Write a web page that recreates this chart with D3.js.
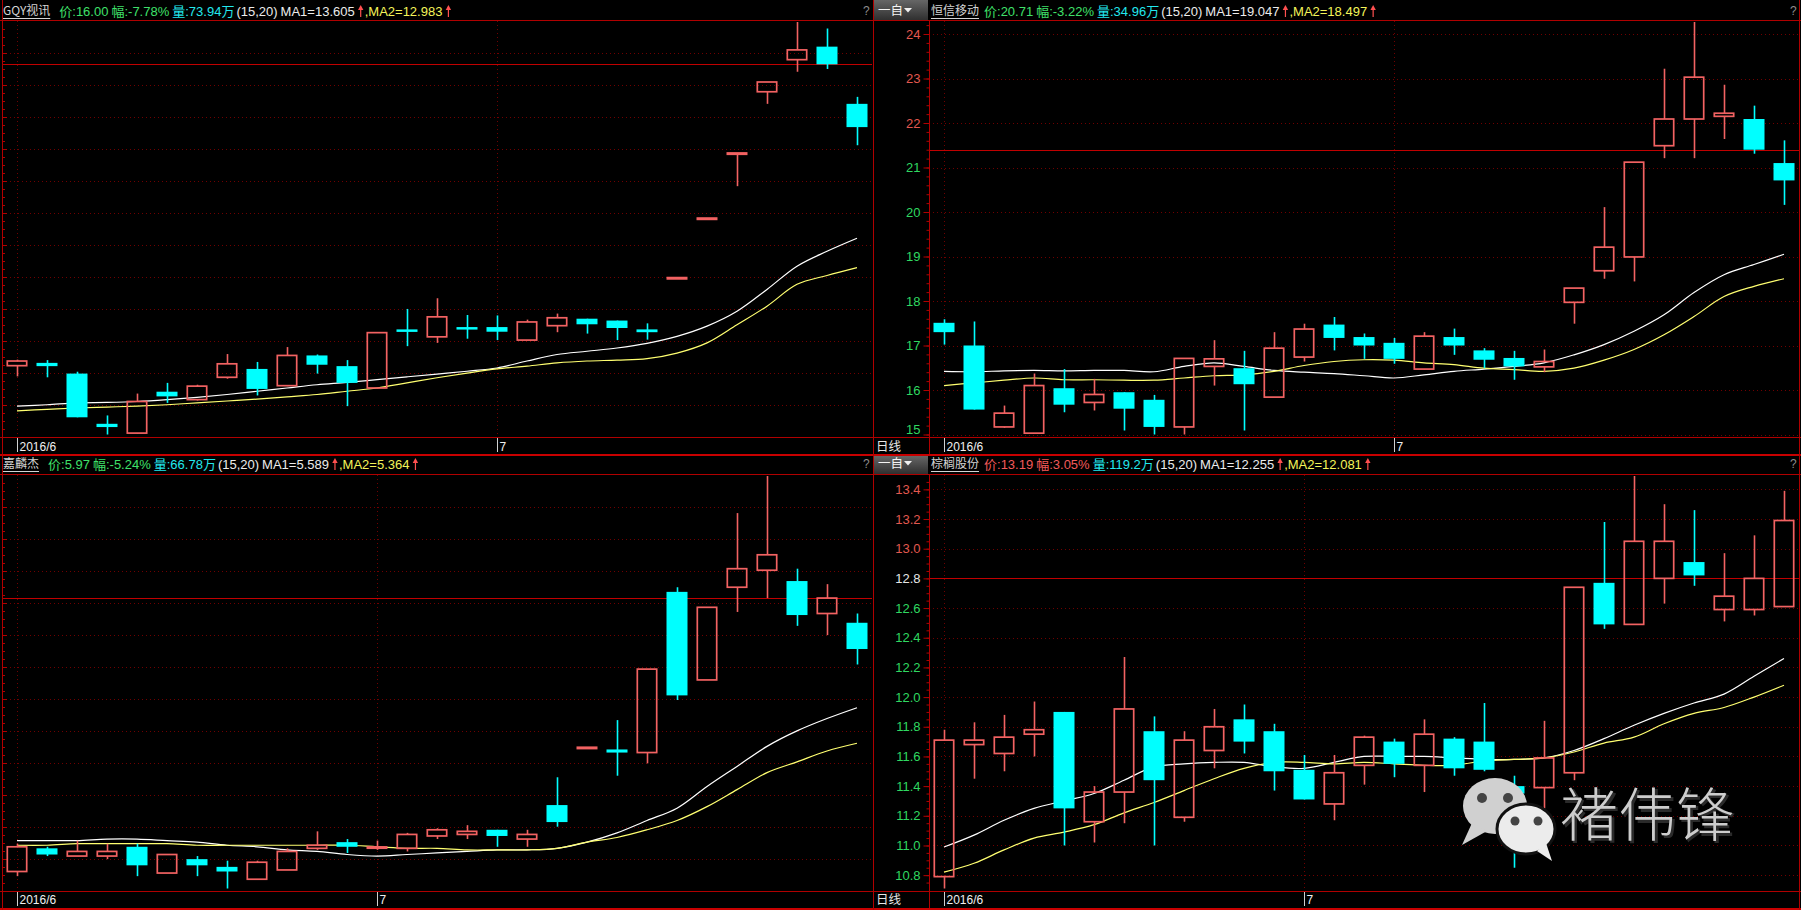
<!DOCTYPE html>
<html><head><meta charset="utf-8"><title>K线</title>
<script src="https://cdn.jsdelivr.net/npm/d3@7/dist/d3.min.js"></script>
<style>html,body{margin:0;padding:0;background:#000;overflow:hidden}svg{display:block}</style>
</head><body><svg id="chart" width="1801" height="910"></svg>
<script>
// ================= DATA =================
const dayIndex = d3.range(29);
const monthLabels = ["2016/6", "7"];

// GQY视讯 (top-left)
const gqyOpen  = [10.87,10.93,10.70,9.62,9.42,10.31,10.14,10.62,10.80,10.44,11.09,10.86,10.39,11.65,11.49,11.70,11.70,11.42,11.73,11.88,11.84,11.65,12.75,14.03,15.43,16.76,17.45,17.73,16.50];
const gqyHigh  = [11.00,10.99,10.74,9.80,10.27,10.50,10.46,11.12,10.95,11.27,11.11,10.99,11.58,12.09,12.32,11.96,11.95,11.86,11.99,11.88,11.84,11.78,12.75,14.03,15.43,16.97,18.26,18.12,16.65];
const gqyLow   = [10.64,10.62,9.76,9.39,9.41,10.07,10.12,10.59,10.23,10.43,10.70,10.00,10.38,11.29,11.36,11.45,11.42,11.42,11.59,11.56,11.42,11.43,12.75,14.03,14.73,16.50,17.19,17.25,15.61];
const gqyClose = [10.97,10.86,9.76,9.55,10.10,10.21,10.43,10.91,10.37,11.09,10.89,10.50,11.58,11.62,11.92,11.67,11.60,11.81,11.90,11.76,11.68,11.59,12.75,14.03,15.43,16.97,17.66,17.35,16.00];
const gqyMA1   = [10.00,10.03,10.07,10.08,10.10,10.14,10.19,10.25,10.32,10.39,10.46,10.51,10.57,10.63,10.69,10.75,10.82,10.97,11.11,11.18,11.25,11.35,11.50,11.72,12.04,12.51,13.01,13.33,13.61];
const gqyMA2   = [9.90,9.93,9.96,9.98,10.00,10.03,10.07,10.11,10.15,10.20,10.25,10.32,10.39,10.50,10.61,10.71,10.80,10.86,10.93,10.97,10.99,11.02,11.14,11.36,11.75,12.15,12.62,12.81,12.98];
const gqyMonthIdx = [0, 16];

// 恒信移动 (top-right)
const hxydOpen  = [17.51,17.00,15.17,15.03,16.04,15.72,15.95,15.78,15.17,16.53,16.49,15.84,16.74,17.47,17.19,17.06,16.47,17.19,16.89,16.72,16.52,17.97,18.68,18.99,21.49,22.09,22.15,22.09,21.10];
const hxydHigh  = [17.59,17.54,15.65,16.37,16.47,16.25,15.95,15.89,16.71,17.12,16.88,17.30,17.49,17.64,17.27,17.17,17.30,17.38,16.94,16.88,16.91,18.29,20.11,21.12,23.22,24.27,22.86,22.39,21.61];
const hxydLow   = [17.02,15.56,15.15,15.02,15.50,15.54,15.09,15.00,15.00,16.10,15.09,15.84,16.64,16.89,16.70,16.59,16.46,16.79,16.49,16.23,16.40,17.49,18.50,18.44,21.21,21.21,21.64,21.31,20.16];
const hxydClose = [17.30,15.56,15.48,16.10,15.67,15.90,15.58,15.17,16.71,16.70,16.13,16.94,17.37,17.17,17.00,16.70,17.21,17.00,16.68,16.53,16.64,18.29,19.21,21.12,22.09,23.03,22.22,21.40,20.71];
const hxydMA1   = [16.42,16.41,16.43,16.44,16.43,16.44,16.44,16.41,16.53,16.61,16.53,16.44,16.40,16.37,16.32,16.27,16.34,16.42,16.47,16.53,16.61,16.79,17.02,17.32,17.69,18.19,18.59,18.82,19.05];
const hxydMA2   = [16.10,16.16,16.22,16.27,16.23,16.23,16.22,16.22,16.27,16.32,16.34,16.42,16.55,16.64,16.68,16.67,16.61,16.57,16.49,16.46,16.42,16.49,16.67,16.91,17.24,17.65,18.10,18.33,18.50];
const hxydMonthIdx = [0, 15];
const hxydTicks = [15,16,17,18,19,20,21,22,23,24];

// 嘉麟杰 (bottom-left)
const jljOpen  = [4.53,4.68,4.63,4.63,4.69,4.52,4.61,4.56,4.48,4.54,4.68,4.72,4.68,4.68,4.76,4.77,4.80,4.74,4.96,5.33,5.32,5.30,6.34,5.77,6.37,6.48,6.41,6.20,6.14];
const jljHigh  = [4.71,4.69,4.73,4.71,4.71,4.64,4.63,4.60,4.60,4.68,4.79,4.74,4.73,4.78,4.81,4.83,4.80,4.80,5.14,5.33,5.51,5.84,6.37,6.24,6.85,7.09,6.49,6.39,6.20];
const jljLow   = [4.50,4.63,4.63,4.61,4.50,4.52,4.50,4.42,4.48,4.54,4.67,4.65,4.67,4.66,4.74,4.74,4.69,4.69,4.82,5.33,5.15,5.23,5.64,5.77,6.21,6.30,6.12,6.06,5.87];
const jljClose = [4.69,4.64,4.66,4.66,4.57,4.64,4.57,4.53,4.59,4.66,4.70,4.69,4.69,4.77,4.80,4.79,4.76,4.77,4.85,5.33,5.30,5.84,5.67,6.24,6.49,6.58,6.19,6.30,5.97];
const jljMA1   = [4.73,4.73,4.73,4.74,4.74,4.73,4.72,4.70,4.69,4.67,4.66,4.64,4.63,4.64,4.65,4.66,4.67,4.67,4.68,4.72,4.78,4.86,4.94,5.08,5.21,5.34,5.44,5.52,5.59];
const jljMA2   = [4.70,4.70,4.71,4.71,4.71,4.71,4.70,4.70,4.70,4.70,4.70,4.70,4.69,4.68,4.68,4.67,4.67,4.67,4.68,4.72,4.75,4.80,4.86,4.95,5.06,5.17,5.24,5.31,5.36];
const jljMonthIdx = [0, 12];

// 棕榈股份 (bottom-right)
const zlgfOpen  = [10.79,11.68,11.62,11.75,11.90,11.16,11.36,11.77,11.19,11.64,11.85,11.77,11.51,11.28,11.54,11.70,11.54,11.72,11.70,11.40,11.39,11.49,12.77,12.49,12.80,12.91,12.59,12.59,12.61];
const zlgfHigh  = [11.78,11.83,11.88,11.97,11.90,11.40,12.27,11.87,11.77,11.92,11.95,11.82,11.61,11.61,11.74,11.72,11.85,11.73,11.96,11.47,11.84,12.74,13.18,13.49,13.30,13.26,12.97,13.09,13.39];
const zlgfLow   = [10.71,11.45,11.50,11.60,11.00,11.02,11.15,11.00,11.16,11.52,11.62,11.37,11.31,11.17,11.41,11.46,11.36,11.47,11.50,10.85,11.25,11.44,12.46,12.49,12.63,12.75,12.51,12.55,12.61];
const zlgfClose = [11.71,11.71,11.73,11.78,11.25,11.36,11.92,11.44,11.71,11.80,11.70,11.50,11.31,11.49,11.73,11.55,11.75,11.52,11.51,11.35,11.59,12.74,12.49,13.05,13.05,12.82,12.68,12.80,13.19];
const zlgfMA1   = [10.99,11.07,11.17,11.25,11.30,11.35,11.44,11.53,11.55,11.56,11.56,11.53,11.52,11.56,11.60,11.60,11.60,11.59,11.58,11.58,11.59,11.64,11.72,11.81,11.89,11.96,12.02,12.14,12.26];
const zlgfMA2   = [10.82,10.88,10.97,11.05,11.09,11.14,11.22,11.29,11.37,11.45,11.52,11.56,11.56,11.55,11.56,11.55,11.54,11.54,11.57,11.58,11.59,11.63,11.69,11.73,11.82,11.89,11.93,12.00,12.08];
const zlgfMonthIdx = [0, 12];
const zlgfTicks = [10.8,11.0,11.2,11.4,11.6,11.8,12.0,12.2,12.4,12.6,12.8,13.0,13.2,13.4];

// header info
const stockNames  = ["GQY视讯", "恒信移动", "嘉麟杰", "棕榈股份"];
const lastPrices  = ["16.00", "20.71", "5.97", "13.19"];
const changePcts  = ["-7.78", "-3.22", "-5.24", "3.05"];
const volumes     = ["73.94万", "34.96万", "66.78万", "119.2万"];
const ma1Values   = ["13.605", "19.047", "5.589", "12.255"];
const ma2Values   = ["12.983", "18.497", "5.364", "12.081"];
const prevCloses  = [17.35, 21.40, 6.30, 12.80];
const maParams    = "(15,20)";

// ================= LAYOUT / STYLE =================
const C_UP = "#f26262", C_DN = "#00ffff", C_MA1 = "#ffffff", C_MA2 = "#ffff70";
const C_FRAME = "#b00000", C_GRID = "#700000";
const C_GREEN = "#3fe06a", C_REDTXT = "#f25a5a", C_CYANTXT = "#22e8ee", C_YEL = "#f4f45a";
const LATIN = '"Liberation Sans", Arial, "Noto Sans CJK SC", sans-serif';
const CJK = '"Noto Sans CJK SC", "Noto Sans", sans-serif';

const rows = [
  {hTop: 0,   hBot: 20.5,  hBase: 16,  top: 21,  bottom: 437, lblBase: 450.5, end: 455},
  {hTop: 456, hBot: 474.5, hBase: 469, top: 475, bottom: 891, lblBase: 904,   end: 909}
];
const cols = [
  {x0: 2,   axis: false, hdrX: 3,   qX: 863},
  {x0: 929, axis: true,  hdrX: 931, qX: 1790}
];

const panels = [
  {row:0,col:0,k:0,open:gqyOpen,high:gqyHigh,low:gqyLow,close:gqyClose,ma1:gqyMA1,ma2:gqyMA2,months:gqyMonthIdx},
  {row:0,col:1,k:1,open:hxydOpen,high:hxydHigh,low:hxydLow,close:hxydClose,ma1:hxydMA1,ma2:hxydMA2,months:hxydMonthIdx,ticks:hxydTicks,minor:0.2,fmt:d3.format("d")},
  {row:1,col:0,k:2,open:jljOpen,high:jljHigh,low:jljLow,close:jljClose,ma1:jljMA1,ma2:jljMA2,months:jljMonthIdx},
  {row:1,col:1,k:3,open:zlgfOpen,high:zlgfHigh,low:zlgfLow,close:zlgfClose,ma1:zlgfMA1,ma2:zlgfMA2,months:zlgfMonthIdx,ticks:zlgfTicks,minor:0.05,fmt:d3.format(".1f")}
];

const svg = d3.select("#chart");
svg.append("rect").attr("width",1801).attr("height",910).attr("fill","#000");
const defs = svg.append("defs");
const grad = defs.append("linearGradient").attr("id","btn").attr("x1",0).attr("y1",0).attr("x2",0).attr("y2",1);
grad.append("stop").attr("offset","0%").attr("stop-color","#666");
grad.append("stop").attr("offset","100%").attr("stop-color","#2e2e2e");

const gLayer = svg.append("g"), mLayer = svg.append("g"), fLayer = svg.append("g");

function upArrow(g, x, base, color) {
  g.append("line").attr("x1", x + 3).attr("x2", x + 3).attr("y1", base + 1).attr("y2", base - 9)
    .attr("stroke", color).attr("stroke-width", 1.2);
  g.append("path").attr("d", `M${x + 0.3},${base - 6} L${x + 3},${base - 11} L${x + 5.7},${base - 6} Z`).attr("fill", color);
  return 7;
}

panels.forEach(p => {
  const r = rows[p.row], c = cols[p.col];
  const n = p.close.length;
  const x = d3.scaleBand().domain(dayIndex.slice(0, n)).range([c.x0, c.x0 + 30 * n]).paddingInner(0.3).paddingOuter(0.15);
  const bw = x.bandwidth();
  const cx = i => x(i) + bw / 2;
  const y = d3.scaleLinear().domain([d3.min(p.low), d3.max(p.high)]).range([r.bottom - 2.5, r.top + 1]);
  const plotL = c.x0, plotR = c.x0 + 30 * n;

  // grid
  const g = gLayer.append("g");
  if (p.ticks) {
    g.selectAll("line.hg").data(p.ticks).join("line")
      .attr("x1", plotL).attr("x2", plotR).attr("y1", d => Math.round(y(d)) + 0.5).attr("y2", d => Math.round(y(d)) + 0.5)
      .attr("stroke", C_GRID).attr("stroke-dasharray", "1,3");
  } else {
    const divs = d3.range(1, 13).map(k => r.top + k * (r.bottom - r.top) / 13);
    g.selectAll("line.hg").data(divs).join("line")
      .attr("x1", plotL).attr("x2", plotR).attr("y1", d => Math.round(d) + 0.5).attr("y2", d => Math.round(d) + 0.5)
      .attr("stroke", C_GRID).attr("stroke-dasharray", "1,3");
    const lt = d3.range(r.top + 8, r.bottom, 8);
    g.selectAll("line.lt").data(lt).join("line")
      .attr("x1", 2).attr("x2", (d, i) => (i % 4 === 3 ? 7 : 5)).attr("y1", d => Math.round(d) + 0.5).attr("y2", d => Math.round(d) + 0.5)
      .attr("stroke", C_FRAME);
  }
  g.selectAll("line.mv").data(p.months).join("line")
    .attr("x1", d => Math.round(cx(d)) + 0.5).attr("x2", d => Math.round(cx(d)) + 0.5)
    .attr("y1", r.top).attr("y2", r.bottom).attr("stroke", C_GRID).attr("stroke-dasharray", "1,3");
  g.append("line").attr("x1", plotL).attr("x2", plotR)
    .attr("y1", Math.round(y(prevCloses[p.k])) + 0.5).attr("y2", Math.round(y(prevCloses[p.k])) + 0.5)
    .attr("stroke", "#c00000").attr("stroke-width", 1);

  // MA lines
  const line = d3.line().x((d, i) => cx(i)).y(d => y(d)).curve(d3.curveCatmullRom.alpha(0.5));
  mLayer.append("path").datum(p.ma1).attr("d", line).attr("fill", "none").attr("stroke", C_MA1).attr("stroke-width", 1.2);
  mLayer.append("path").datum(p.ma2).attr("d", line).attr("fill", "none").attr("stroke", C_MA2).attr("stroke-width", 1.2);

  // candles
  const cg = mLayer.append("g");
  d3.range(n).forEach(i => {
    const o = p.open[i], cl = p.close[i], h = p.high[i], l = p.low[i];
    const up = cl >= o;
    const xm = Math.round(cx(i)) + 0.5;
    const yt = y(Math.max(o, cl)), yb = y(Math.min(o, cl));
    if (up) {
      cg.append("line").attr("x1", xm).attr("x2", xm).attr("y1", y(h)).attr("y2", yt).attr("stroke", C_UP).attr("stroke-width", 1.6);
      cg.append("line").attr("x1", xm).attr("x2", xm).attr("y1", yb).attr("y2", y(l)).attr("stroke", C_UP).attr("stroke-width", 1.6);
      const hh = yb - yt;
      if (hh < 2.5) {
        cg.append("rect").attr("x", x(i)).attr("y", (yt + yb) / 2 - 1.5).attr("width", bw).attr("height", 3).attr("fill", C_UP);
      } else {
        cg.append("rect").attr("x", x(i) + 0.8).attr("y", yt).attr("width", bw - 1.6).attr("height", hh)
          .attr("fill", "none").attr("stroke", C_UP).attr("stroke-width", 1.7);
      }
    } else {
      cg.append("line").attr("x1", xm).attr("x2", xm).attr("y1", y(h)).attr("y2", y(l)).attr("stroke", C_DN).attr("stroke-width", 1.6);
      cg.append("rect").attr("x", x(i)).attr("y", yt).attr("width", bw).attr("height", Math.max(2.5, yb - yt)).attr("fill", C_DN);
    }
  });

  // y axis on right-column panels
  if (c.axis) {
    const ref = prevCloses[p.k];
    const d0 = y.domain();
    const minorVals = d3.range(Math.ceil(d0[0] / p.minor) * p.minor, d0[1], p.minor);
    const gm = fLayer.append("g").attr("transform", `translate(${c.x0 + 0.5},0)`)
      .call(d3.axisLeft(y).tickValues(minorVals).tickSize(3).tickFormat(""));
    gm.select(".domain").remove();
    gm.selectAll(".tick line").attr("stroke", C_FRAME);
    const ga = fLayer.append("g").attr("transform", `translate(${c.x0 + 0.5},0)`)
      .call(d3.axisLeft(y).tickValues(p.ticks).tickSize(6).tickPadding(3).tickFormat(p.fmt));
    ga.attr("font-family", LATIN).attr("font-size", 13);
    ga.select(".domain").remove();
    ga.selectAll(".tick line").attr("stroke", C_FRAME);
    ga.selectAll(".tick text")
      .attr("fill", d => Math.abs(d - ref) < 1e-6 ? "#e6e6e6" : (d > ref ? "#e2584f" : "#2fd860"))
      .attr("y", d => Math.min(0, (r.bottom - 8) - y(d)));
  }

  // x-axis label row
  const lg = fLayer.append("g");
  p.months.forEach((mi, j) => {
    const xm = Math.round(cx(mi)) + 0.5;
    lg.append("line").attr("x1", xm).attr("x2", xm).attr("y1", r.bottom).attr("y2", r.bottom + 15).attr("stroke", "#d0d0d0").attr("stroke-width", 1);
    lg.append("text").attr("x", xm + 2).attr("y", r.lblBase).attr("fill", "#f0f0f0")
      .style("font-family", LATIN).style("font-size", "12px").text(monthLabels[j]);
  });
  if (c.axis) {
    lg.append("text").attr("x", 876).attr("y", r.lblBase).attr("fill", "#e6e6e6")
      .style("font-family", CJK).style("font-size", "12.5px").text("日线");
  }

  // header
  const hg = fLayer.append("g");
  const nm = hg.append("text").attr("x", c.hdrX).attr("y", r.hBase - 1).attr("fill", "#d4d4d4")
    .style("font-family", CJK).style("font-size", "12px").text(stockNames[p.k]);
  const nw = nm.node().getComputedTextLength();
  hg.append("line").attr("x1", c.hdrX).attr("x2", c.hdrX + nw).attr("y1", r.hBase + 2.5).attr("y2", r.hBase + 2.5)
    .attr("stroke", "#d4d4d4").attr("stroke-width", 1);
  const pc = +changePcts[p.k] < 0 ? C_GREEN : C_REDTXT;
  const segs = [
    {t: "价:" + lastPrices[p.k], c: pc, gap: 3},
    {t: "幅:" + changePcts[p.k] + "%", c: pc, gap: 3},
    {t: "量:" + volumes[p.k], c: C_CYANTXT, gap: 2},
    {t: maParams, c: "#ececec", gap: 3},
    {t: "MA1=" + ma1Values[p.k], c: "#ececec", gap: 3, arrow: true},
    {t: ",MA2=" + ma2Values[p.k], c: C_YEL, gap: 3, arrow: true}
  ];
  let xx = c.hdrX + nw + (p.col === 0 ? 9 : 5);
  segs.forEach(s => {
    const t = hg.append("text").attr("x", xx).attr("y", r.hBase).attr("fill", s.c)
      .style("font-family", LATIN).style("font-size", "13px").text(s.t);
    xx += t.node().getComputedTextLength() + s.gap;
    if (s.arrow) xx += upArrow(hg, xx, r.hBase, "#ff5050");
  });
  hg.append("text").attr("x", c.qX).attr("y", r.hBase - 1).attr("fill", "#8c8c8c")
    .style("font-family", LATIN).style("font-size", "12px").text("?");
  if (c.axis) {
    hg.append("rect").attr("x", 874).attr("y", r.hTop).attr("width", 54).attr("height", r.hBot - r.hTop).attr("fill", "url(#btn)");
    hg.append("text").attr("x", 878).attr("y", r.hBase - 1).attr("fill", "#f4f4f4")
      .style("font-family", CJK).style("font-size", "12.5px").text("一自");
    const ty = r.hBase - 8;
    hg.append("path").attr("d", `M904,${ty} L912,${ty} L908,${ty + 4.5} Z`).attr("fill", "#f0f0f0");
  }
});

// ================= FRAME =================
const fr = fLayer.append("g").attr("stroke", C_FRAME).attr("fill", "none");
rows.forEach(r => {
  fr.append("line").attr("x1", 0).attr("x2", 1801).attr("y1", r.hBot).attr("y2", r.hBot);
  fr.append("line").attr("x1", 0).attr("x2", 1801).attr("y1", r.bottom + 0.5).attr("y2", r.bottom + 0.5);
  fr.append("line").attr("x1", 929.5).attr("x2", 929.5).attr("y1", r.hBot).attr("y2", r.end);
});
fr.append("line").attr("x1", 0).attr("x2", 1801).attr("y1", 455).attr("y2", 455).attr("stroke", "#c80000").attr("stroke-width", 2);
fr.append("line").attr("x1", 0).attr("x2", 1801).attr("y1", 909).attr("y2", 909).attr("stroke", "#c80000").attr("stroke-width", 2);
fr.append("line").attr("x1", 2.5).attr("x2", 2.5).attr("y1", 0).attr("y2", 910);
fr.append("line").attr("x1", 873.5).attr("x2", 873.5).attr("y1", 0).attr("y2", 910);
fr.append("line").attr("x1", 1799.5).attr("x2", 1799.5).attr("y1", 0).attr("y2", 910);

// ================= WATERMARK =================
const wm = svg.append("g");
wm.append("ellipse").attr("cx", 1495).attr("cy", 806).attr("rx", 32).attr("ry", 28).attr("fill", "#d0d0d0");
wm.append("path").attr("d", "M1472,823 L1462,845 L1487,831 Z").attr("fill", "#d0d0d0");
wm.append("circle").attr("cx", 1482).attr("cy", 798).attr("r", 5).attr("fill", "#444");
wm.append("circle").attr("cx", 1508).attr("cy", 798).attr("r", 5).attr("fill", "#444");
wm.append("ellipse").attr("cx", 1526).attr("cy", 829).attr("rx", 29).attr("ry", 25).attr("fill", "#ececec").attr("stroke", "#111").attr("stroke-width", 3);
wm.append("path").attr("d", "M1537,851 L1552,861 L1546,843 Z").attr("fill", "#ececec");
wm.append("circle").attr("cx", 1515).attr("cy", 821).attr("r", 4.5).attr("fill", "#444");
wm.append("circle").attr("cx", 1538).attr("cy", 821).attr("r", 4.5).attr("fill", "#444");
wm.append("text").attr("x", 1562).attr("y", 838).attr("fill", "#2a2a2a")
  .style("font-family", CJK).style("font-size", "58px").text("褚伟锋");
wm.append("text").attr("x", 1560).attr("y", 836).attr("fill", "#cdcdcd")
  .style("font-family", CJK).style("font-size", "58px").style("font-weight", 300).text("褚伟锋");
</script>
</body></html>
